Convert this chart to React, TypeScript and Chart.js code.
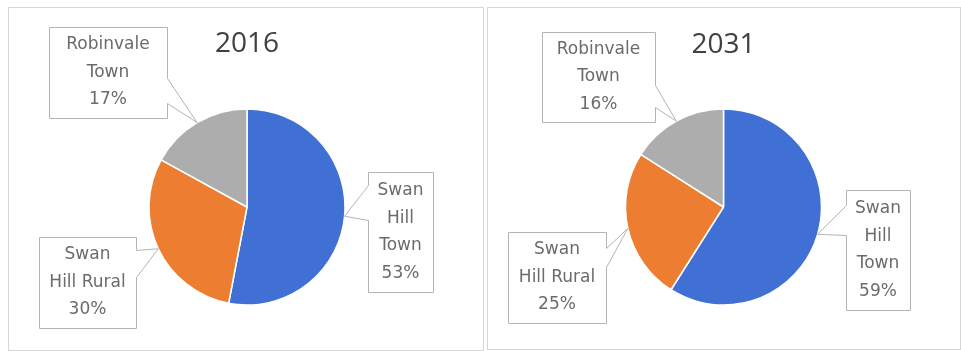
import React, { useEffect, useRef } from "react";
import { Chart, registerables } from "chart.js";

Chart.register(...registerables);

// ---- data ----
const categories = ["Swan Hill Town", "Swan Hill Rural", "Robinvale Town"];
const categoryLines = [["Swan", "Hill", "Town"], ["Swan", "Hill Rural"], ["Robinvale", "Town"]];
const years = ["2016", "2031"];
const values2016 = [53, 30, 17];
const values2031 = [59, 25, 16];

// ---- styles ----
const sliceColors = ["#4170D4", "#ED7D31", "#ADADAD"];

type Box = { x0: number; y0: number; x1: number; y1: number; side: "left" | "right"; a: number; b: number };
type Layout = {
  panel: { left: number; top: number; width: number; height: number };
  canvas: { width: number; height: number };
  padding: { left: number; right: number; top: number; bottom: number };
  titleY: number;
  boxes: Box[];
};

const layouts: Layout[] = [
  {
    panel: { left: 8, top: 7, width: 476, height: 344 },
    canvas: { width: 474, height: 342 },
    padding: { left: 100, right: 98, top: 101, bottom: 45 },
    titleY: 36,
    boxes: [
      { x0: 359, y0: 164, x1: 424, y1: 284, side: "left", a: 13, b: 48 },
      { x0: 30, y0: 229, x1: 127, y1: 320, side: "right", a: 13, b: 40 },
      { x0: 40, y0: 19, x1: 158, y1: 110, side: "right", a: 51, b: 76 },
    ],
  },
  {
    panel: { left: 487, top: 7, width: 474, height: 343 },
    canvas: { width: 472, height: 341 },
    padding: { left: 99, right: 100, top: 101, bottom: 44 },
    titleY: 37,
    boxes: [
      { x0: 358, y0: 182, x1: 422, y1: 302, side: "left", a: 15, b: 45 },
      { x0: 20, y0: 224, x1: 118, y1: 315, side: "right", a: 16, b: 35 },
      { x0: 54, y0: 24, x1: 167, y1: 114, side: "right", a: 53, b: 75 },
    ],
  },
];

function makeCalloutPlugin(title: string, layout: Layout, values: number[]) {
  return {
    id: "callouts" + title,
    afterDraw(chart: any) {
      const ctx: CanvasRenderingContext2D = chart.ctx;
      const meta = chart.getDatasetMeta(0);
      let cx = 0;
      ctx.save();
      meta.data.forEach((arc: any, i: number) => {
        const p = arc.getProps(["x", "y", "startAngle", "endAngle", "outerRadius"], true);
        cx = p.x;
        const mid = (p.startAngle + p.endAngle) / 2;
        const tx = p.x + Math.cos(mid) * p.outerRadius;
        const ty = p.y + Math.sin(mid) * p.outerRadius;
        const bx = layout.boxes[i];
        const x0 = bx.x0 + 0.5, x1 = bx.x1 + 0.5, y0 = bx.y0 + 0.5, y1 = bx.y1 + 0.5;
        ctx.beginPath();
        if (bx.side === "right") {
          ctx.moveTo(x0, y0);
          ctx.lineTo(x1, y0);
          ctx.lineTo(x1, y0 + bx.a);
          ctx.lineTo(tx, ty);
          ctx.lineTo(x1, y0 + bx.b);
          ctx.lineTo(x1, y1);
          ctx.lineTo(x0, y1);
          ctx.closePath();
        } else {
          ctx.moveTo(x0, y0);
          ctx.lineTo(x1, y0);
          ctx.lineTo(x1, y1);
          ctx.lineTo(x0, y1);
          ctx.lineTo(x0, y0 + bx.b);
          ctx.lineTo(tx, ty);
          ctx.lineTo(x0, y0 + bx.a);
          ctx.closePath();
        }
        ctx.fillStyle = "#FFFFFF";
        ctx.fill();
        ctx.strokeStyle = "#B4B4B4";
        ctx.lineWidth = 1;
        ctx.stroke();

        const lines = [...categoryLines[i], values[i] + "%"];
        const lh = 27.5;
        const mx = (bx.x0 + bx.x1) / 2;
        const my = (bx.y0 + bx.y1) / 2;
        ctx.fillStyle = "#6B6B6B";
        ctx.font = "17px 'DejaVu Sans'";
        ctx.textAlign = "center";
        ctx.textBaseline = "middle";
        lines.forEach((t, k) => {
          ctx.fillText(t, mx, my + (k - (lines.length - 1) / 2) * lh);
        });
      });
      ctx.fillStyle = "#404040";
      ctx.font = "28px 'Open Sans'";
      ctx.textAlign = "center";
      ctx.textBaseline = "middle";
      ctx.fillText(title, cx, layout.titleY);
      ctx.restore();
    },
  };
}

function PiePanel({ title, values, layout }: { title: string; values: number[]; layout: Layout }) {
  const ref = useRef<HTMLCanvasElement | null>(null);
  useEffect(() => {
    if (!ref.current) return;
    const chart = new Chart(ref.current, {
      type: "pie",
      data: {
        labels: categories,
        datasets: [
          {
            data: values,
            backgroundColor: sliceColors,
            borderColor: "#FFFFFF",
            borderWidth: 1.5,
            hoverOffset: 0,
            offset: 0,
          },
        ],
      },
      options: {
        responsive: false,
        animation: false,
        radius: 98,
        layout: { padding: layout.padding },
        plugins: {
          legend: { display: false },
          tooltip: { enabled: false },
          title: { display: false },
        },
        events: [],
      } as any,
      plugins: [makeCalloutPlugin(title, layout, values)],
    });
    return () => chart.destroy();
  }, [title, values, layout]);
  const { panel, canvas } = layout;
  return (
    <div
      style={{
        position: "absolute",
        left: panel.left,
        top: panel.top,
        width: panel.width,
        height: panel.height,
        border: "1px solid #D6D6D6",
        boxSizing: "border-box",
        background: "#FFFFFF",
      }}
    >
      <canvas
        ref={ref}
        width={canvas.width}
        height={canvas.height}
        style={{ position: "absolute", left: 0, top: 0, width: canvas.width, height: canvas.height }}
      />
    </div>
  );
}

export default function App() {
  return (
    <div>
      <PiePanel title={years[0]} values={values2016} layout={layouts[0]} />
      <PiePanel title={years[1]} values={values2031} layout={layouts[1]} />
    </div>
  );
}
